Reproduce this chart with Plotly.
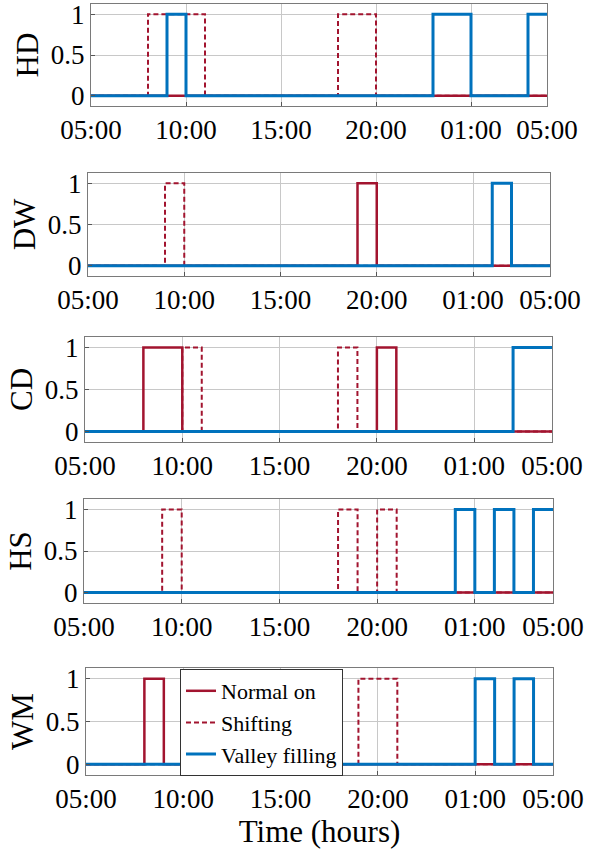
import plotly.graph_objects as go

# ---------------- data ----------------
# hourly on/off states, hours 05:00 (5) ... 04:00 next day (28)
hours = list(range(5, 30))  # 5..29 (29 = 05:00 next day)
tick_vals = [5, 10, 15, 20, 25, 29]
tick_text = ["05:00", "10:00", "15:00", "20:00", "01:00", "05:00"]
appliances = ["HD", "DW", "CD", "HS", "WM"]

#            5  6  7  8  9 10 11 12 13 14 15 16 17 18 19 20 21 22 23 24 25 26 27 28
HD_normal = [0, 0, 0, 0, 0, 0, 0, 0, 0, 0, 0, 0, 0, 0, 0, 0, 0, 0, 0, 0, 0, 0, 0, 0]
HD_shift  = [0, 0, 0, 1, 1, 1, 0, 0, 0, 0, 0, 0, 0, 1, 1, 0, 0, 0, 0, 0, 0, 0, 0, 0]
HD_valley = [0, 0, 0, 0, 1, 0, 0, 0, 0, 0, 0, 0, 0, 0, 0, 0, 0, 0, 1, 1, 0, 0, 0, 1]

DW_normal = [0, 0, 0, 0, 0, 0, 0, 0, 0, 0, 0, 0, 0, 0, 1, 0, 0, 0, 0, 0, 0, 0, 0, 0]
DW_shift  = [0, 0, 0, 0, 1, 0, 0, 0, 0, 0, 0, 0, 0, 0, 0, 0, 0, 0, 0, 0, 0, 0, 0, 0]
DW_valley = [0, 0, 0, 0, 0, 0, 0, 0, 0, 0, 0, 0, 0, 0, 0, 0, 0, 0, 0, 0, 0, 1, 0, 0]

CD_normal = [0, 0, 0, 1, 1, 0, 0, 0, 0, 0, 0, 0, 0, 0, 0, 1, 0, 0, 0, 0, 0, 0, 0, 0]
CD_shift  = [0, 0, 0, 0, 0, 1, 0, 0, 0, 0, 0, 0, 0, 1, 0, 0, 0, 0, 0, 0, 0, 0, 0, 0]
CD_valley = [0, 0, 0, 0, 0, 0, 0, 0, 0, 0, 0, 0, 0, 0, 0, 0, 0, 0, 0, 0, 0, 0, 1, 1]

HS_normal = [0, 0, 0, 0, 0, 0, 0, 0, 0, 0, 0, 0, 0, 0, 0, 0, 0, 0, 0, 0, 0, 0, 0, 0]
HS_shift  = [0, 0, 0, 0, 1, 0, 0, 0, 0, 0, 0, 0, 0, 1, 0, 1, 0, 0, 0, 0, 0, 0, 0, 0]
HS_valley = [0, 0, 0, 0, 0, 0, 0, 0, 0, 0, 0, 0, 0, 0, 0, 0, 0, 0, 0, 1, 0, 1, 0, 1]

WM_normal = [0, 0, 0, 1, 0, 0, 0, 0, 0, 0, 0, 0, 0, 0, 0, 0, 0, 0, 0, 0, 0, 0, 0, 0]
WM_shift  = [0, 0, 0, 0, 0, 0, 0, 0, 0, 0, 0, 0, 0, 0, 1, 1, 0, 0, 0, 0, 0, 0, 0, 0]
WM_valley = [0, 0, 0, 0, 0, 0, 0, 0, 0, 0, 0, 0, 0, 0, 0, 0, 0, 0, 0, 0, 1, 0, 1, 0]

series = {
    "HD": (HD_normal, HD_shift, HD_valley),
    "DW": (DW_normal, DW_shift, DW_valley),
    "CD": (CD_normal, CD_shift, CD_valley),
    "HS": (HS_normal, HS_shift, HS_valley),
    "WM": (WM_normal, WM_shift, WM_valley),
}
legend_names = ["Normal on", "Shifting", "Valley filling"]

# ---------------- layout geometry (pixels) ----------------
W, H = 600, 851
panels = {  # x0, x1, ytop, ybottom
    "HD": (91, 547, 4, 106),
    "DW": (88, 550, 173, 276),
    "CD": (85, 552, 337, 442),
    "HS": (84, 553, 499, 603),
    "WM": (86, 553, 668, 775),
}

RED = "#A2142F"
BLUE = "#0072BD"
FONT = "Liberation Serif"

fig = go.Figure()
layout = {}
for i, name in enumerate(appliances, start=1):
    xa = "x" if i == 1 else f"x{i}"
    ya = "y" if i == 1 else f"y{i}"
    normal, shift, valley = series[name]
    styles = [
        dict(color=RED, width=2.5),
        dict(color=RED, width=2, dash="5px,3px"),
        dict(color=BLUE, width=3),
    ]
    for vals, st, lname in zip((normal, shift, valley), styles, legend_names):
        fig.add_trace(go.Scatter(
            x=hours, y=list(vals) + [vals[-1]], mode="lines",
            line=dict(shape="hv", **st), name=lname,
            showlegend=(name == "WM"), legendgroup=lname,
            xaxis=xa, yaxis=ya, hoverinfo="skip",
        ))
    x0, x1, yt, yb = panels[name]
    axis_common = dict(
        showline=True, linecolor="#7a7a7a", linewidth=1, mirror=True,
        showgrid=True, gridcolor="#c8c8c8", gridwidth=1, zeroline=False,
        ticks="inside", ticklen=4, tickcolor="#555",
        tickfont=dict(family=FONT, size=27, color="black"),
        automargin=False, ticklabeloverflow="allow",
    )
    xkey = "xaxis" if i == 1 else f"xaxis{i}"
    ykey = "yaxis" if i == 1 else f"yaxis{i}"
    layout[xkey] = dict(
        domain=[x0 / W, x1 / W], anchor=ya, range=[5, 29],
        tickmode="array", tickvals=tick_vals, ticktext=tick_text,
        **axis_common,
    )
    if name == "WM":
        layout[xkey]["title"] = dict(text="Time (hours)", standoff=2,
                                     font=dict(family=FONT, size=31, color="black"))
    layout[ykey] = dict(
        domain=[1 - yb / H, 1 - yt / H], anchor=xa, range=[-0.125, 1.125],
        tickmode="array", tickvals=[0, 0.5, 1], ticktext=["0", "0.5", "1"],
        title=dict(text=name, standoff=2, font=dict(family=FONT, size=31, color="black")),
        **axis_common,
    )

fig.update_layout(
    width=W, height=H,
    margin=dict(l=0, r=0, t=0, b=0),
    paper_bgcolor="white", plot_bgcolor="white",
    font=dict(family=FONT, color="black"),
    legend=dict(
        x=180 / W, y=1 - 669 / H, xanchor="left", yanchor="top",
        bgcolor="white", bordercolor="#333", borderwidth=1,
        font=dict(family=FONT, size=22, color="black"),
        itemwidth=30, tracegroupgap=0,
    ),
    **layout,
)

fig.write_html(
    "out.html",
    config={"displayModeBar": False},
    post_script="document.body.style.margin='0px';document.documentElement.style.margin='0px';",
)
